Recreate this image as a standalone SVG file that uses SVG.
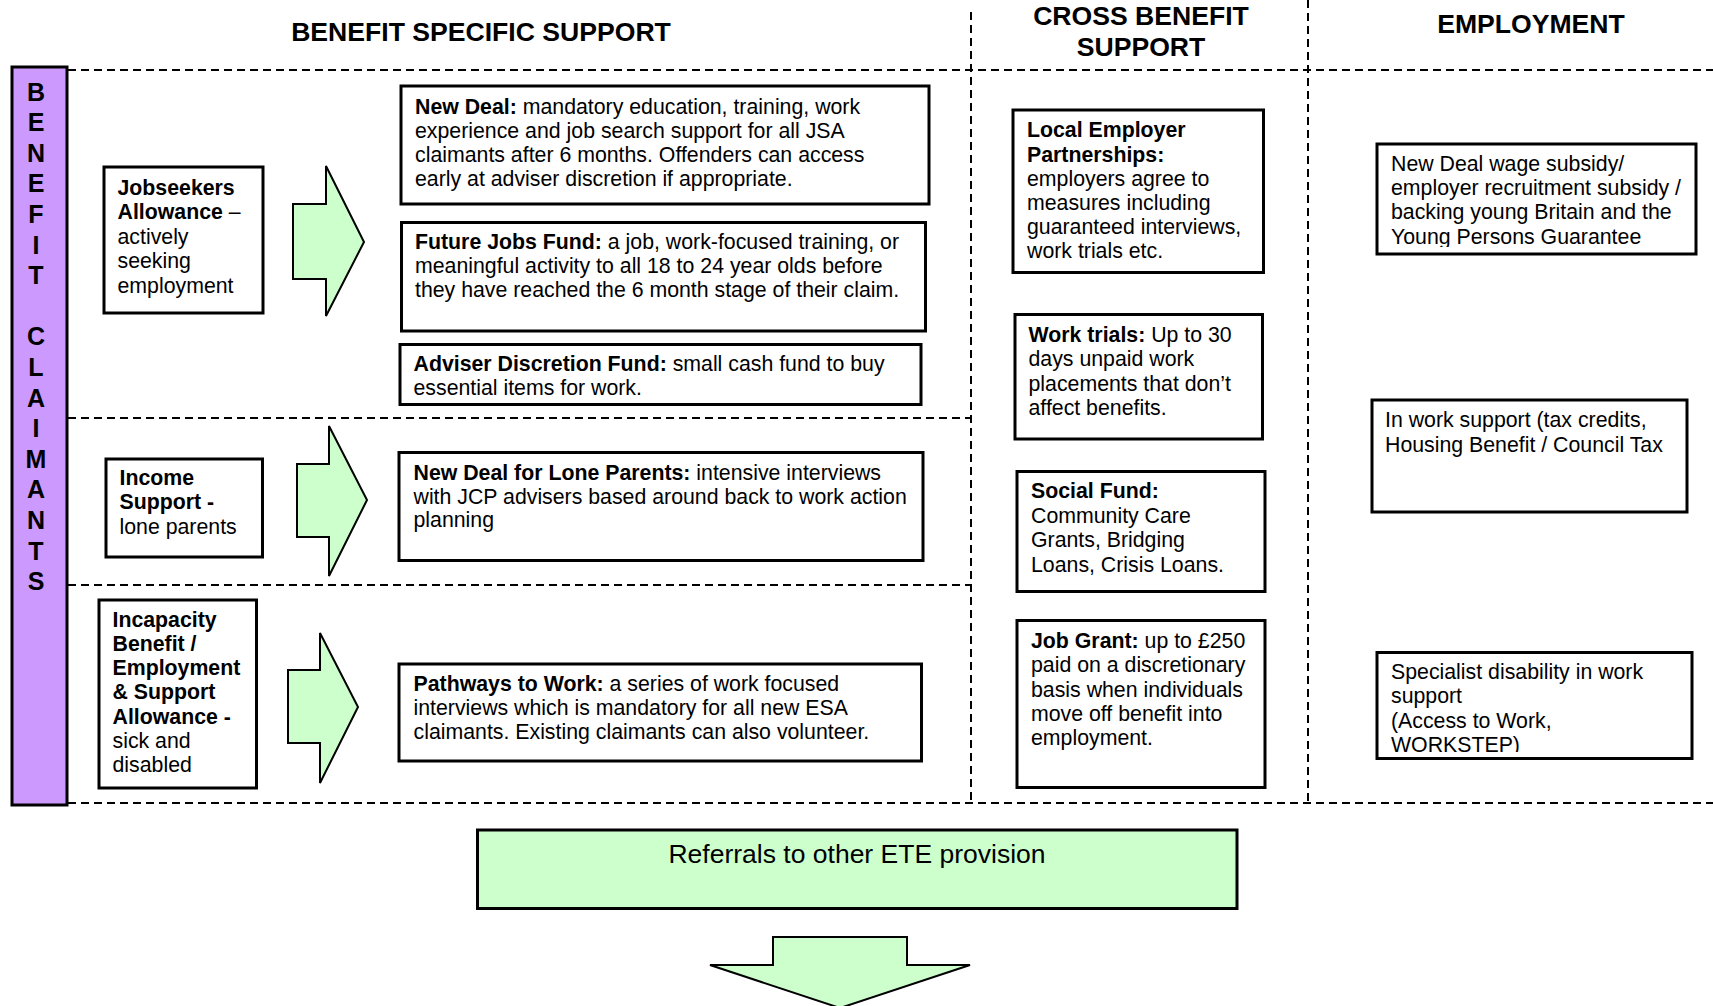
<svg xmlns="http://www.w3.org/2000/svg" width="1713" height="1006" viewBox="0 0 1713 1006">
<style>
text{font-family:"Liberation Sans",Arial,Helvetica,sans-serif;fill:#000}
.t{font-size:21.3px}
.b{font-weight:bold}
.h{font-size:26.6px;font-weight:bold;text-anchor:middle}
.v{font-size:25px;font-weight:bold;text-anchor:middle}
.box{fill:#fff;stroke:#000;stroke-width:3}
.grn{fill:#ccffcc;stroke:#000;stroke-width:2}
.gbox{fill:#ccffcc;stroke:#000;stroke-width:3}
.dash{stroke:#000;stroke-width:2;stroke-dasharray:8 5;fill:none}
</style>
<defs>
<clipPath id="clipE1"><rect x="1377" y="144" width="319" height="103"/></clipPath>
<clipPath id="clipE3"><rect x="1377" y="652" width="315" height="100"/></clipPath>
</defs>
<rect x="0" y="0" width="1713" height="1006" fill="#fff"/>

<g id="grid">
<line class="dash" x1="68" y1="70" x2="1713" y2="70"/>
<line class="dash" x1="68" y1="803" x2="1713" y2="803"/>
<line class="dash" x1="68" y1="418" x2="972" y2="418"/>
<line class="dash" x1="68" y1="585" x2="972" y2="585"/>
<line class="dash" x1="971" y1="12" x2="971" y2="803"/>
<line class="dash" x1="1308" y1="0" x2="1308" y2="803"/>
</g>

<g id="headers">
<text class="h" x="481" y="41">BENEFIT SPECIFIC SUPPORT</text>
<text class="h" x="1141" y="25">CROSS BENEFIT</text>
<text class="h" x="1141" y="56">SUPPORT</text>
<text class="h" x="1531" y="33">EMPLOYMENT</text>
</g>

<g id="benefit-claimants">
<rect x="12" y="67" width="55" height="738" fill="#cc99ff" stroke="#000" stroke-width="3"/>
<text class="v" x="36" y="100.5">B</text>
<text class="v" x="36" y="131">E</text>
<text class="v" x="36" y="161.5">N</text>
<text class="v" x="36" y="192">E</text>
<text class="v" x="36" y="223">F</text>
<text class="v" x="36" y="253.5">I</text>
<text class="v" x="36" y="284">T</text>
<text class="v" x="36" y="345">C</text>
<text class="v" x="36" y="376">L</text>
<text class="v" x="36" y="406.5">A</text>
<text class="v" x="36" y="437">I</text>
<text class="v" x="36" y="467.5">M</text>
<text class="v" x="36" y="498">A</text>
<text class="v" x="36" y="529">N</text>
<text class="v" x="36" y="559.5">T</text>
<text class="v" x="36" y="590">S</text>
</g>

<g id="jsa">
<rect class="box" x="104" y="167" width="159" height="146"/>
<text class="t" x="117.5"><tspan class="b" x="117.5" y="194.5">Jobseekers</tspan><tspan x="117.5" y="219"><tspan class="b">Allowance</tspan> –</tspan><tspan x="117.5" y="243.5">actively</tspan><tspan x="117.5" y="268">seeking</tspan><tspan x="117.5" y="292.5">employment</tspan></text>
</g>

<g id="income-support">
<rect class="box" x="106" y="459" width="156.5" height="98"/>
<text class="t"><tspan class="b" x="119.5" y="485">Income</tspan><tspan class="b" x="119.5" y="509">Support -</tspan><tspan x="119.5" y="533.5">lone parents</tspan></text>
</g>

<g id="incapacity">
<rect class="box" x="99" y="600" width="157.5" height="188"/>
<text class="t"><tspan class="b" x="112.5" y="626.5">Incapacity</tspan><tspan class="b" x="112.5" y="650.5">Benefit /</tspan><tspan class="b" x="112.5" y="675">Employment</tspan><tspan class="b" x="112.5" y="699">&amp; Support</tspan><tspan class="b" x="112.5" y="723.5">Allowance -</tspan><tspan x="112.5" y="747.5">sick and</tspan><tspan x="112.5" y="771.5">disabled</tspan></text>
</g>

<g id="new-deal">
<rect class="box" x="401" y="86" width="528" height="118"/>
<text class="t"><tspan x="415" y="114"><tspan class="b">New Deal:</tspan> mandatory education, training, work</tspan><tspan x="415" y="138">experience and job search support for all JSA</tspan><tspan x="415" y="162">claimants after 6 months. Offenders can access</tspan><tspan x="415" y="186">early at adviser discretion if appropriate.</tspan></text>
</g>

<g id="future-jobs-fund">
<rect class="box" x="401.5" y="222.5" width="524" height="108.5"/>
<text class="t"><tspan x="415" y="248.5"><tspan class="b">Future Jobs Fund:</tspan> a job, work-focused training, or</tspan><tspan x="415" y="272.5">meaningful activity to all 18 to 24 year olds before</tspan><tspan x="415" y="296.5">they have reached the 6 month stage of their claim.</tspan></text>
</g>

<g id="adviser-discretion-fund">
<rect class="box" x="400" y="344.5" width="521" height="60"/>
<text class="t"><tspan x="413.5" y="370.5"><tspan class="b">Adviser Discretion Fund:</tspan> small cash fund to buy</tspan><tspan x="413.5" y="394.5">essential items for work.</tspan></text>
</g>

<g id="nd-lone-parents">
<rect class="box" x="399" y="452.5" width="524" height="108"/>
<text class="t"><tspan x="413.5" y="479.5"><tspan class="b">New Deal for Lone Parents:</tspan> intensive interviews</tspan><tspan x="413.5" y="503.5">with JCP advisers based around back to work action</tspan><tspan x="413.5" y="527">planning</tspan></text>
</g>

<g id="pathways">
<rect class="box" x="399" y="664" width="522.5" height="97"/>
<text class="t"><tspan x="413.5" y="690.5"><tspan class="b">Pathways to Work:</tspan> a series of work focused</tspan><tspan x="413.5" y="714.5">interviews which is mandatory for all new ESA</tspan><tspan x="413.5" y="738.5">claimants. Existing claimants can also volunteer.</tspan></text>
</g>

<g id="local-employer">
<rect class="box" x="1013" y="110" width="250.5" height="162.5"/>
<text class="t"><tspan class="b" x="1027" y="137">Local Employer</tspan><tspan class="b" x="1027" y="161.5">Partnerships:</tspan><tspan x="1027" y="185.5">employers agree to</tspan><tspan x="1027" y="209.5">measures including</tspan><tspan x="1027" y="233.5">guaranteed interviews,</tspan><tspan x="1027" y="258">work trials etc.</tspan></text>
</g>

<g id="work-trials">
<rect class="box" x="1015" y="314.5" width="247.5" height="124.5"/>
<text class="t"><tspan x="1028.5" y="341.5"><tspan class="b">Work trials:</tspan> Up to 30</tspan><tspan x="1028.5" y="366">days unpaid work</tspan><tspan x="1028.5" y="390.5">placements that don’t</tspan><tspan x="1028.5" y="415">affect benefits.</tspan></text>
</g>

<g id="social-fund">
<rect class="box" x="1017" y="471.5" width="248" height="120"/>
<text class="t"><tspan class="b" x="1031" y="498">Social Fund:</tspan><tspan x="1031" y="522.5">Community Care</tspan><tspan x="1031" y="547">Grants, Bridging</tspan><tspan x="1031" y="571.5">Loans, Crisis Loans.</tspan></text>
</g>

<g id="job-grant">
<rect class="box" x="1017" y="620.5" width="248" height="167"/>
<text class="t"><tspan x="1031" y="647.5"><tspan class="b">Job Grant:</tspan> up to £250</tspan><tspan x="1031" y="672">paid on a discretionary</tspan><tspan x="1031" y="696.5">basis when individuals</tspan><tspan x="1031" y="721">move off benefit into</tspan><tspan x="1031" y="745">employment.</tspan></text>
</g>

<g id="wage-subsidy">
<rect class="box" x="1377" y="144" width="319" height="110"/>
<text class="t" clip-path="url(#clipE1)"><tspan x="1391" y="170.5">New Deal wage subsidy/</tspan><tspan x="1391" y="195">employer recruitment subsidy /</tspan><tspan x="1391" y="219">backing young Britain and the</tspan><tspan x="1391" y="243.5">Young Persons Guarantee</tspan></text>
</g>

<g id="in-work-support">
<rect class="box" x="1372" y="400" width="315" height="112"/>
<text class="t"><tspan x="1385" y="426.5">In work support (tax credits,</tspan><tspan x="1385" y="451.5">Housing Benefit / Council Tax</tspan></text>
</g>

<g id="specialist-disability">
<rect class="box" x="1377" y="652.5" width="315" height="106"/>
<text class="t" clip-path="url(#clipE3)"><tspan x="1391" y="678.5">Specialist disability in work</tspan><tspan x="1391" y="702.5">support</tspan><tspan x="1391" y="727.5">(Access to Work,</tspan><tspan x="1391" y="751.5">WORKSTEP)</tspan></text>
</g>

<g id="referrals">
<rect class="gbox" x="477.5" y="830" width="759.5" height="78.5"/>
<text x="857" y="863" font-size="26.5" text-anchor="middle">Referrals to other ETE provision</text>
</g>

<g id="connectors">
<polygon class="grn" points="293,204 326,204 326,166 364,242 326,316 326,279 293,279"/>
<polygon class="grn" points="297,464 329,464 329,426 367,500 329,576 329,537 297,537"/>
<polygon class="grn" points="288,670 320,670 320,633 358,707 320,783 320,743 288,743"/>
<polygon class="grn" points="773,937 907,937 907,965 970,965 840,1008 710,965 773,965"/>
</g>
</svg>
